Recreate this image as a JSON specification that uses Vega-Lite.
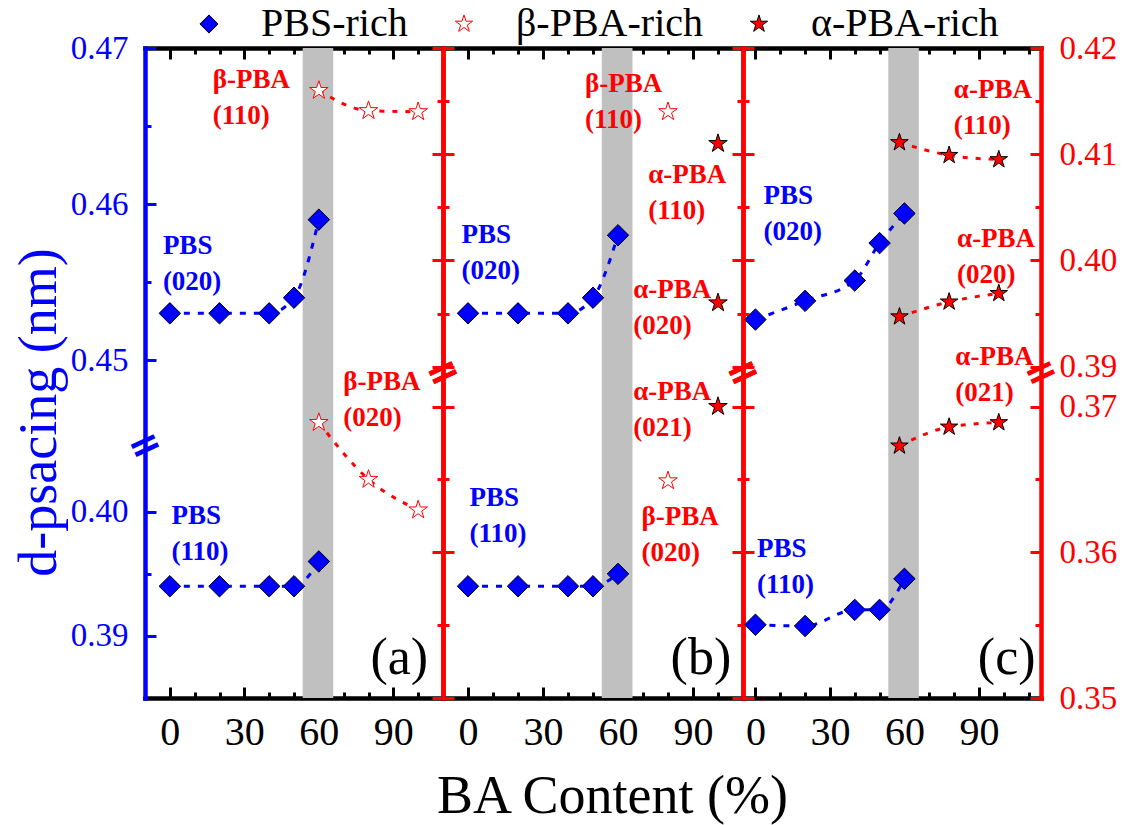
{
  "$schema": "https://vega.github.io/schema/vega-lite/v6.json",
  "padding": {"left": 12, "top": 4, "right": 4, "bottom": 4},
  "bounds": "flush",
  "spacing": 0,
  "datasets": {
    "bands": [{"start": 53.5, "end": 65.8}],
    "points": [
      {"panel": "a", "side": "blue", "phase": "PBS-rich", "reflection": "PBS (020)", "BA": 0, "d_spacing": 0.453},
      {"panel": "a", "side": "blue", "phase": "PBS-rich", "reflection": "PBS (020)", "BA": 20, "d_spacing": 0.453},
      {"panel": "a", "side": "blue", "phase": "PBS-rich", "reflection": "PBS (020)", "BA": 40, "d_spacing": 0.453},
      {"panel": "a", "side": "blue", "phase": "PBS-rich", "reflection": "PBS (020)", "BA": 50, "d_spacing": 0.454},
      {"panel": "a", "side": "blue", "phase": "PBS-rich", "reflection": "PBS (020)", "BA": 60, "d_spacing": 0.459},
      {"panel": "a", "side": "blue", "phase": "PBS-rich", "reflection": "PBS (110)", "BA": 0, "d_spacing": 0.394},
      {"panel": "a", "side": "blue", "phase": "PBS-rich", "reflection": "PBS (110)", "BA": 20, "d_spacing": 0.394},
      {"panel": "a", "side": "blue", "phase": "PBS-rich", "reflection": "PBS (110)", "BA": 40, "d_spacing": 0.394},
      {"panel": "a", "side": "blue", "phase": "PBS-rich", "reflection": "PBS (110)", "BA": 50, "d_spacing": 0.394},
      {"panel": "a", "side": "blue", "phase": "PBS-rich", "reflection": "PBS (110)", "BA": 60, "d_spacing": 0.396},
      {"panel": "a", "side": "red", "phase": "β-PBA-rich", "reflection": "β-PBA (110)", "BA": 60, "d_spacing": 0.416},
      {"panel": "a", "side": "red", "phase": "β-PBA-rich", "reflection": "β-PBA (110)", "BA": 80, "d_spacing": 0.4141},
      {"panel": "a", "side": "red", "phase": "β-PBA-rich", "reflection": "β-PBA (110)", "BA": 100, "d_spacing": 0.414},
      {"panel": "a", "side": "red", "phase": "β-PBA-rich", "reflection": "β-PBA (020)", "BA": 60, "d_spacing": 0.3689},
      {"panel": "a", "side": "red", "phase": "β-PBA-rich", "reflection": "β-PBA (020)", "BA": 80, "d_spacing": 0.365},
      {"panel": "a", "side": "red", "phase": "β-PBA-rich", "reflection": "β-PBA (020)", "BA": 100, "d_spacing": 0.3629},
      {"panel": "b", "side": "blue", "phase": "PBS-rich", "reflection": "PBS (020)", "BA": 0, "d_spacing": 0.453},
      {"panel": "b", "side": "blue", "phase": "PBS-rich", "reflection": "PBS (020)", "BA": 20, "d_spacing": 0.453},
      {"panel": "b", "side": "blue", "phase": "PBS-rich", "reflection": "PBS (020)", "BA": 40, "d_spacing": 0.453},
      {"panel": "b", "side": "blue", "phase": "PBS-rich", "reflection": "PBS (020)", "BA": 50, "d_spacing": 0.454},
      {"panel": "b", "side": "blue", "phase": "PBS-rich", "reflection": "PBS (020)", "BA": 60, "d_spacing": 0.458},
      {"panel": "b", "side": "blue", "phase": "PBS-rich", "reflection": "PBS (110)", "BA": 0, "d_spacing": 0.394},
      {"panel": "b", "side": "blue", "phase": "PBS-rich", "reflection": "PBS (110)", "BA": 20, "d_spacing": 0.394},
      {"panel": "b", "side": "blue", "phase": "PBS-rich", "reflection": "PBS (110)", "BA": 40, "d_spacing": 0.394},
      {"panel": "b", "side": "blue", "phase": "PBS-rich", "reflection": "PBS (110)", "BA": 50, "d_spacing": 0.394},
      {"panel": "b", "side": "blue", "phase": "PBS-rich", "reflection": "PBS (110)", "BA": 60, "d_spacing": 0.395},
      {"panel": "b", "side": "red", "phase": "β-PBA-rich", "reflection": "β-PBA (110)", "BA": 80, "d_spacing": 0.414},
      {"panel": "b", "side": "red", "phase": "β-PBA-rich", "reflection": "β-PBA (020)", "BA": 80, "d_spacing": 0.3649},
      {"panel": "b", "side": "red", "phase": "α-PBA-rich", "reflection": "α-PBA (110)", "BA": 100, "d_spacing": 0.411},
      {"panel": "b", "side": "red", "phase": "α-PBA-rich", "reflection": "α-PBA (020)", "BA": 100, "d_spacing": 0.396},
      {"panel": "b", "side": "red", "phase": "α-PBA-rich", "reflection": "α-PBA (021)", "BA": 100, "d_spacing": 0.370},
      {"panel": "c", "side": "blue", "phase": "PBS-rich", "reflection": "PBS (020)", "BA": 0, "d_spacing": 0.4526},
      {"panel": "c", "side": "blue", "phase": "PBS-rich", "reflection": "PBS (020)", "BA": 20, "d_spacing": 0.4538},
      {"panel": "c", "side": "blue", "phase": "PBS-rich", "reflection": "PBS (020)", "BA": 40, "d_spacing": 0.4551},
      {"panel": "c", "side": "blue", "phase": "PBS-rich", "reflection": "PBS (020)", "BA": 50, "d_spacing": 0.4575},
      {"panel": "c", "side": "blue", "phase": "PBS-rich", "reflection": "PBS (020)", "BA": 60, "d_spacing": 0.4594},
      {"panel": "c", "side": "blue", "phase": "PBS-rich", "reflection": "PBS (110)", "BA": 0, "d_spacing": 0.3909},
      {"panel": "c", "side": "blue", "phase": "PBS-rich", "reflection": "PBS (110)", "BA": 20, "d_spacing": 0.3908},
      {"panel": "c", "side": "blue", "phase": "PBS-rich", "reflection": "PBS (110)", "BA": 40, "d_spacing": 0.3921},
      {"panel": "c", "side": "blue", "phase": "PBS-rich", "reflection": "PBS (110)", "BA": 50, "d_spacing": 0.3921},
      {"panel": "c", "side": "blue", "phase": "PBS-rich", "reflection": "PBS (110)", "BA": 60, "d_spacing": 0.3946},
      {"panel": "c", "side": "red", "phase": "α-PBA-rich", "reflection": "α-PBA (110)", "BA": 58, "d_spacing": 0.4111},
      {"panel": "c", "side": "red", "phase": "α-PBA-rich", "reflection": "α-PBA (110)", "BA": 78, "d_spacing": 0.4099},
      {"panel": "c", "side": "red", "phase": "α-PBA-rich", "reflection": "α-PBA (110)", "BA": 98, "d_spacing": 0.4095},
      {"panel": "c", "side": "red", "phase": "α-PBA-rich", "reflection": "α-PBA (020)", "BA": 58, "d_spacing": 0.3947},
      {"panel": "c", "side": "red", "phase": "α-PBA-rich", "reflection": "α-PBA (020)", "BA": 78, "d_spacing": 0.3961},
      {"panel": "c", "side": "red", "phase": "α-PBA-rich", "reflection": "α-PBA (020)", "BA": 98, "d_spacing": 0.3969},
      {"panel": "c", "side": "red", "phase": "α-PBA-rich", "reflection": "α-PBA (021)", "BA": 58, "d_spacing": 0.3673},
      {"panel": "c", "side": "red", "phase": "α-PBA-rich", "reflection": "α-PBA (021)", "BA": 78, "d_spacing": 0.3686},
      {"panel": "c", "side": "red", "phase": "α-PBA-rich", "reflection": "α-PBA (021)", "BA": 98, "d_spacing": 0.3689}
    ],
    "labels": [
      {"panel": "a", "side": "red", "BA": 17.3, "d_spacing": 0.4170, "text": "β-PBA\n(110)"},
      {"panel": "a", "side": "blue", "BA": -2.8, "d_spacing": 0.4573, "text": "PBS\n(020)"},
      {"panel": "a", "side": "red", "BA": 69.8, "d_spacing": 0.3717, "text": "β-PBA\n(020)"},
      {"panel": "a", "side": "blue", "BA": 0.7, "d_spacing": 0.3997, "text": "PBS\n(110)"},
      {"panel": "b", "side": "red", "BA": 46.8, "d_spacing": 0.4166, "text": "β-PBA\n(110)"},
      {"panel": "b", "side": "red", "BA": 72.1, "d_spacing": 0.4080, "text": "α-PBA\n(110)"},
      {"panel": "b", "side": "blue", "BA": -2.6, "d_spacing": 0.4580, "text": "PBS\n(020)"},
      {"panel": "b", "side": "red", "BA": 66.1, "d_spacing": 0.3972, "text": "α-PBA\n(020)"},
      {"panel": "b", "side": "red", "BA": 66.1, "d_spacing": 0.3710, "text": "α-PBA\n(021)"},
      {"panel": "b", "side": "blue", "BA": 0.6, "d_spacing": 0.4011, "text": "PBS\n(110)"},
      {"panel": "b", "side": "red", "BA": 69.4, "d_spacing": 0.3624, "text": "β-PBA\n(020)"},
      {"panel": "c", "side": "red", "BA": 79.9, "d_spacing": 0.4160, "text": "α-PBA\n(110)"},
      {"panel": "c", "side": "blue", "BA": 3.3, "d_spacing": 0.4605, "text": "PBS\n(020)"},
      {"panel": "c", "side": "red", "BA": 81.2, "d_spacing": 0.4020, "text": "α-PBA\n(020)"},
      {"panel": "c", "side": "red", "BA": 80.5, "d_spacing": 0.3909, "text": "α-PBA\n(021)"},
      {"panel": "c", "side": "blue", "BA": 0.6, "d_spacing": 0.3970, "text": "PBS\n(110)"}
    ],
    "tags": [
      {"panel": "a", "BA": 104, "d_spacing": 0.3882, "text": "(a)"},
      {"panel": "b", "BA": 105.3, "d_spacing": 0.3882, "text": "(b)"},
      {"panel": "c", "BA": 112.8, "d_spacing": 0.3882, "text": "(c)"}
    ],
    "breaks": [
      {"panel": "a", "side": "blue", "BA": -10, "d_spacing": 0.425},
      {"panel": "a", "side": "red", "BA": 110, "d_spacing": 0.38},
      {"panel": "b", "side": "red", "BA": -10, "d_spacing": 0.38},
      {"panel": "b", "side": "red", "BA": 110, "d_spacing": 0.38},
      {"panel": "c", "side": "red", "BA": -5, "d_spacing": 0.38},
      {"panel": "c", "side": "red", "BA": 115, "d_spacing": 0.38}
    ]
  },
  "hconcat": [
    {
      "width": 298,
      "height": 650,
      "resolve": {"scale": {"y": "independent"}, "axis": {"x": "independent", "y": "independent"}},
      "layer": [
        {
          "data": {"name": "bands"},
          "mark": {"type": "rect", "color": "#C0C0C0"},
          "encoding": {
            "x": {"field": "start", "type": "quantitative", "scale": {"domain": [-10, 110], "nice": false, "zero": false},
              "axis": {"orient": "bottom", "values": [0,10,20,30,40,50,60,70,80,90,100], "labelExpr": "datum.value % 30 == 0 && datum.value < 100 ? datum.label : ''", "tickSize": {"condition": {"test": "datum.value % 30 == 0", "value": -11}, "value": -6}, "labelPadding": 25, "labelFontSize": 40, "title": null}},
            "x2": {"field": "end"}
          }
        },
        {
          "resolve": {"axis": {"x": "independent", "y": "independent"}},
          "layer": [
            {
              "data": {"name": "points"},
              "transform": [{"filter": "datum.panel == 'a' && datum.side == 'blue'"}],
              "mark": {"type": "line", "stroke": "#0000FF", "strokeWidth": 3, "strokeDash": [6, 8], "interpolate": "monotone"},
              "encoding": {
                "x": {"field": "BA", "type": "quantitative", "scale": {"domain": [-10, 110], "nice": false, "zero": false}, "axis": null},
                "y": {"field": "d_spacing", "type": "quantitative", "scale": {"domain": [0.385, 0.4053, 0.4445, 0.47], "range": [650, 398, 398, 0], "nice": false, "zero": false},
                  "axis": {"orient": "left", "values": [0.39, 0.395, 0.40, 0.45, 0.455, 0.46, 0.465, 0.47], "labelExpr": "round(datum.value*1000) % 10 == 0 ? format(datum.value, '.2f') : ''", "tickSize": {"condition": {"test": "round(datum.value*1000) % 10 == 0", "value": -11}, "value": -6}, "labelPadding": 28, "labelFontSize": 33, "labelColor": "#0000FF", "domainColor": "#0000FF", "tickColor": "#0000FF", "title": "d-psacing (nm)", "titleColor": "#0000FF", "titleFontSize": 54, "titlePadding": 4, "titleY": 364}},
                "detail": {"field": "reflection"}
              }
            },
            {
              "data": {"name": "points"},
              "transform": [{"filter": "datum.panel == 'a' && datum.side == 'blue'"}],
              "mark": {"type": "point", "size": 460, "opacity": 1, "strokeWidth": 1},
              "encoding": {
                "x": {"field": "BA", "type": "quantitative", "scale": {"domain": [-10, 110], "nice": false, "zero": false},
                  "axis": {"orient": "top", "values": [0,10,20,30,40,50,60,70,80,90,100], "labels": false, "tickSize": {"condition": {"test": "datum.value % 30 == 0", "value": -11}, "value": -6}, "title": null}},
                "y": {"field": "d_spacing", "type": "quantitative", "scale": {"domain": [0.385, 0.4053, 0.4445, 0.47], "range": [650, 398, 398, 0], "nice": false, "zero": false}, "axis": null},
                "shape": {"field": "phase", "type": "nominal", "title": null, "scale": {"domain": ["PBS-rich", "β-PBA-rich", "α-PBA-rich"], "range": ["diamond", "M0,-1L0.2245,-0.309L0.9511,-0.309L0.3633,0.118L0.5878,0.809L0,0.382L-0.5878,0.809L-0.3633,0.118L-0.9511,-0.309L-0.2245,-0.309Z", "M0,-1L0.2245,-0.309L0.9511,-0.309L0.3633,0.118L0.5878,0.809L0,0.382L-0.5878,0.809L-0.3633,0.118L-0.9511,-0.309L-0.2245,-0.309Z"]}},
                "fill": {"field": "phase", "type": "nominal", "title": null, "scale": {"domain": ["PBS-rich", "β-PBA-rich", "α-PBA-rich"], "range": ["#0000FF", "#FFFFFF", "#FF0000"]}},
                "stroke": {"field": "phase", "type": "nominal", "title": null, "scale": {"domain": ["PBS-rich", "β-PBA-rich", "α-PBA-rich"], "range": ["#000000", "#FF0000", "#000000"]}}
              }
            },
            {
              "data": {"name": "labels"},
              "transform": [{"filter": "datum.panel == 'a' && datum.side == 'blue'"}],
              "mark": {"type": "text", "align": "left", "baseline": "middle", "font": "Liberation Serif", "fontWeight": "bold", "fontSize": 27, "lineHeight": 36, "lineBreak": "\n", "color": "#0000FF"},
              "encoding": {
                "x": {"field": "BA", "type": "quantitative", "scale": {"domain": [-10, 110], "nice": false, "zero": false}, "axis": null},
                "y": {"field": "d_spacing", "type": "quantitative", "scale": {"domain": [0.385, 0.4053, 0.4445, 0.47], "range": [650, 398, 398, 0], "nice": false, "zero": false}, "axis": null},
                "text": {"field": "text"}
              }
            },
            {
              "data": {"name": "tags"},
              "transform": [{"filter": "datum.panel == 'a'"}],
              "mark": {"type": "text", "align": "right", "baseline": "middle", "font": "Liberation Serif", "fontSize": 52, "color": "#000000"},
              "encoding": {
                "x": {"field": "BA", "type": "quantitative", "scale": {"domain": [-10, 110], "nice": false, "zero": false}, "axis": null},
                "y": {"field": "d_spacing", "type": "quantitative", "scale": {"domain": [0.385, 0.4053, 0.4445, 0.47], "range": [650, 398, 398, 0], "nice": false, "zero": false}, "axis": null},
                "text": {"field": "text"}
              }
            },
            {
              "data": {"name": "breaks"},
              "transform": [{"filter": "datum.panel == 'a' && datum.side == 'blue'"}],
              "mark": {"type": "text", "text": "=", "angle": 335, "align": "center", "baseline": "middle", "font": "DejaVu Sans", "fontSize": 40, "fontWeight": "bold", "color": "#0000FF"},
              "encoding": {
                "x": {"field": "BA", "type": "quantitative", "scale": {"domain": [-10, 110], "nice": false, "zero": false}, "axis": null},
                "y": {"field": "d_spacing", "type": "quantitative", "scale": {"domain": [0.385, 0.4053, 0.4445, 0.47], "range": [650, 398, 398, 0], "nice": false, "zero": false}, "axis": null}
              }
            }
          ]
        },
        {
          "resolve": {"axis": {"x": "independent", "y": "independent"}},
          "layer": [
            {
              "data": {"name": "points"},
              "transform": [{"filter": "datum.panel == 'a' && datum.side == 'red'"}],
              "mark": {"type": "line", "stroke": "#FF0000", "strokeWidth": 3, "strokeDash": [5, 8], "interpolate": "monotone"},
              "encoding": {
                "x": {"field": "BA", "type": "quantitative", "scale": {"domain": [-10, 110], "nice": false, "zero": false}, "axis": null},
                "y": {"field": "d_spacing", "type": "quantitative", "scale": {"domain": [0.35, 0.3723, 0.3894, 0.42], "range": [650, 325, 325, 0], "nice": false, "zero": false}, "axis": null},
                "detail": {"field": "reflection"}
              }
            },
            {
              "data": {"name": "points"},
              "transform": [{"filter": "datum.panel == 'a' && datum.side == 'red'"}],
              "mark": {"type": "point", "size": 380, "opacity": 1, "strokeWidth": 1},
              "encoding": {
                "x": {"field": "BA", "type": "quantitative", "scale": {"domain": [-10, 110], "nice": false, "zero": false}, "axis": null},
                "y": {"field": "d_spacing", "type": "quantitative", "scale": {"domain": [0.35, 0.3723, 0.3894, 0.42], "range": [650, 325, 325, 0], "nice": false, "zero": false},
                  "axis": {"orient": "right", "values": [0.35, 0.355, 0.36, 0.365, 0.37, 0.39, 0.395, 0.40, 0.405, 0.41, 0.415, 0.42], "labels": false, "tickSize": {"condition": {"test": "round(datum.value*1000) % 10 == 0", "value": -11}, "value": -6}, "title": null}},
                "shape": {"field": "phase", "type": "nominal", "title": null, "scale": {"domain": ["PBS-rich", "β-PBA-rich", "α-PBA-rich"], "range": ["diamond", "M0,-1L0.2245,-0.309L0.9511,-0.309L0.3633,0.118L0.5878,0.809L0,0.382L-0.5878,0.809L-0.3633,0.118L-0.9511,-0.309L-0.2245,-0.309Z", "M0,-1L0.2245,-0.309L0.9511,-0.309L0.3633,0.118L0.5878,0.809L0,0.382L-0.5878,0.809L-0.3633,0.118L-0.9511,-0.309L-0.2245,-0.309Z"]}},
                "fill": {"field": "phase", "type": "nominal", "title": null, "scale": {"domain": ["PBS-rich", "β-PBA-rich", "α-PBA-rich"], "range": ["#0000FF", "#FFFFFF", "#FF0000"]}},
                "stroke": {"field": "phase", "type": "nominal", "title": null, "scale": {"domain": ["PBS-rich", "β-PBA-rich", "α-PBA-rich"], "range": ["#000000", "#FF0000", "#000000"]}}
              }
            },
            {
              "data": {"name": "labels"},
              "transform": [{"filter": "datum.panel == 'a' && datum.side == 'red'"}],
              "mark": {"type": "text", "align": "left", "baseline": "middle", "font": "Liberation Serif", "fontWeight": "bold", "fontSize": 27, "lineHeight": 36, "lineBreak": "\n", "color": "#FF0000"},
              "encoding": {
                "x": {"field": "BA", "type": "quantitative", "scale": {"domain": [-10, 110], "nice": false, "zero": false}, "axis": null},
                "y": {"field": "d_spacing", "type": "quantitative", "scale": {"domain": [0.35, 0.3723, 0.3894, 0.42], "range": [650, 325, 325, 0], "nice": false, "zero": false}, "axis": null},
                "text": {"field": "text"}
              }
            },
            {
              "data": {"name": "breaks"},
              "transform": [{"filter": "datum.panel == 'a' && datum.side == 'red'"}],
              "mark": {"type": "text", "text": "=", "angle": 335, "align": "center", "baseline": "middle", "font": "DejaVu Sans", "fontSize": 40, "fontWeight": "bold", "color": "#FF0000"},
              "encoding": {
                "x": {"field": "BA", "type": "quantitative", "scale": {"domain": [-10, 110], "nice": false, "zero": false}, "axis": null},
                "y": {"field": "d_spacing", "type": "quantitative", "scale": {"domain": [0.35, 0.3723, 0.3894, 0.42], "range": [650, 325, 325, 0], "nice": false, "zero": false}, "axis": null}
              }
            }
          ]
        }
      ]
    },
    {
      "width": 300,
      "height": 650,
      "resolve": {"scale": {"y": "independent"}, "axis": {"x": "independent", "y": "independent"}},
      "layer": [
        {
          "data": {"name": "bands"},
          "mark": {"type": "rect", "color": "#C0C0C0"},
          "encoding": {
            "x": {"field": "start", "type": "quantitative", "scale": {"domain": [-10, 110], "nice": false, "zero": false},
              "axis": {"orient": "bottom", "values": [0,10,20,30,40,50,60,70,80,90,100], "labelExpr": "datum.value % 30 == 0 && datum.value < 100 ? datum.label : ''", "tickSize": {"condition": {"test": "datum.value % 30 == 0", "value": -11}, "value": -6}, "labelPadding": 25, "labelFontSize": 40, "title": "BA Content (%)", "titleFontSize": 54, "titleColor": "#000000", "titlePadding": 12, "titleX": 169}},
            "x2": {"field": "end"}
          }
        },
        {
          "resolve": {"axis": {"x": "independent", "y": "independent"}},
          "layer": [
            {
              "data": {"name": "points"},
              "transform": [{"filter": "datum.panel == 'b' && datum.side == 'blue'"}],
              "mark": {"type": "line", "stroke": "#0000FF", "strokeWidth": 3, "strokeDash": [6, 8], "interpolate": "monotone"},
              "encoding": {
                "x": {"field": "BA", "type": "quantitative", "scale": {"domain": [-10, 110], "nice": false, "zero": false}, "axis": null},
                "y": {"field": "d_spacing", "type": "quantitative", "scale": {"domain": [0.385, 0.4053, 0.4445, 0.47], "range": [650, 398, 398, 0], "nice": false, "zero": false}, "axis": null},
                "detail": {"field": "reflection"}
              }
            },
            {
              "data": {"name": "points"},
              "transform": [{"filter": "datum.panel == 'b' && datum.side == 'blue'"}],
              "mark": {"type": "point", "size": 460, "opacity": 1, "strokeWidth": 1},
              "encoding": {
                "x": {"field": "BA", "type": "quantitative", "scale": {"domain": [-10, 110], "nice": false, "zero": false},
                  "axis": {"orient": "top", "values": [0,10,20,30,40,50,60,70,80,90,100], "labels": false, "tickSize": {"condition": {"test": "datum.value % 30 == 0", "value": -11}, "value": -6}, "title": null}},
                "y": {"field": "d_spacing", "type": "quantitative", "scale": {"domain": [0.385, 0.4053, 0.4445, 0.47], "range": [650, 398, 398, 0], "nice": false, "zero": false}, "axis": null},
                "shape": {"field": "phase", "type": "nominal", "title": null, "scale": {"domain": ["PBS-rich", "β-PBA-rich", "α-PBA-rich"], "range": ["diamond", "M0,-1L0.2245,-0.309L0.9511,-0.309L0.3633,0.118L0.5878,0.809L0,0.382L-0.5878,0.809L-0.3633,0.118L-0.9511,-0.309L-0.2245,-0.309Z", "M0,-1L0.2245,-0.309L0.9511,-0.309L0.3633,0.118L0.5878,0.809L0,0.382L-0.5878,0.809L-0.3633,0.118L-0.9511,-0.309L-0.2245,-0.309Z"]}},
                "fill": {"field": "phase", "type": "nominal", "title": null, "scale": {"domain": ["PBS-rich", "β-PBA-rich", "α-PBA-rich"], "range": ["#0000FF", "#FFFFFF", "#FF0000"]}},
                "stroke": {"field": "phase", "type": "nominal", "title": null, "scale": {"domain": ["PBS-rich", "β-PBA-rich", "α-PBA-rich"], "range": ["#000000", "#FF0000", "#000000"]}}
              }
            },
            {
              "data": {"name": "labels"},
              "transform": [{"filter": "datum.panel == 'b' && datum.side == 'blue'"}],
              "mark": {"type": "text", "align": "left", "baseline": "middle", "font": "Liberation Serif", "fontWeight": "bold", "fontSize": 27, "lineHeight": 36, "lineBreak": "\n", "color": "#0000FF"},
              "encoding": {
                "x": {"field": "BA", "type": "quantitative", "scale": {"domain": [-10, 110], "nice": false, "zero": false}, "axis": null},
                "y": {"field": "d_spacing", "type": "quantitative", "scale": {"domain": [0.385, 0.4053, 0.4445, 0.47], "range": [650, 398, 398, 0], "nice": false, "zero": false}, "axis": null},
                "text": {"field": "text"}
              }
            },
            {
              "data": {"name": "tags"},
              "transform": [{"filter": "datum.panel == 'b'"}],
              "mark": {"type": "text", "align": "right", "baseline": "middle", "font": "Liberation Serif", "fontSize": 52, "color": "#000000"},
              "encoding": {
                "x": {"field": "BA", "type": "quantitative", "scale": {"domain": [-10, 110], "nice": false, "zero": false}, "axis": null},
                "y": {"field": "d_spacing", "type": "quantitative", "scale": {"domain": [0.385, 0.4053, 0.4445, 0.47], "range": [650, 398, 398, 0], "nice": false, "zero": false}, "axis": null},
                "text": {"field": "text"}
              }
            }
          ]
        },
        {
          "resolve": {"axis": {"x": "independent", "y": "independent"}},
          "layer": [
            {
              "data": {"name": "points"},
              "transform": [{"filter": "datum.panel == 'b' && datum.side == 'red'"}],
              "mark": {"type": "line", "stroke": "#FF0000", "strokeWidth": 3, "strokeDash": [5, 8], "interpolate": "monotone"},
              "encoding": {
                "x": {"field": "BA", "type": "quantitative", "scale": {"domain": [-10, 110], "nice": false, "zero": false}, "axis": null},
                "y": {"field": "d_spacing", "type": "quantitative", "scale": {"domain": [0.35, 0.3723, 0.3894, 0.42], "range": [650, 325, 325, 0], "nice": false, "zero": false},
                  "axis": {"orient": "left", "values": [0.35, 0.355, 0.36, 0.365, 0.37, 0.39, 0.395, 0.40, 0.405, 0.41, 0.415, 0.42], "labels": false, "tickSize": {"condition": {"test": "round(datum.value*1000) % 10 == 0", "value": -11}, "value": -6}, "title": null}},
                "detail": {"field": "reflection"}
              }
            },
            {
              "data": {"name": "points"},
              "transform": [{"filter": "datum.panel == 'b' && datum.side == 'red'"}],
              "mark": {"type": "point", "size": 380, "opacity": 1, "strokeWidth": 1},
              "encoding": {
                "x": {"field": "BA", "type": "quantitative", "scale": {"domain": [-10, 110], "nice": false, "zero": false}, "axis": null},
                "y": {"field": "d_spacing", "type": "quantitative", "scale": {"domain": [0.35, 0.3723, 0.3894, 0.42], "range": [650, 325, 325, 0], "nice": false, "zero": false},
                  "axis": {"orient": "right", "values": [0.35, 0.355, 0.36, 0.365, 0.37, 0.39, 0.395, 0.40, 0.405, 0.41, 0.415, 0.42], "labels": false, "tickSize": {"condition": {"test": "round(datum.value*1000) % 10 == 0", "value": -11}, "value": -6}, "title": null}},
                "shape": {"field": "phase", "type": "nominal", "title": null, "scale": {"domain": ["PBS-rich", "β-PBA-rich", "α-PBA-rich"], "range": ["diamond", "M0,-1L0.2245,-0.309L0.9511,-0.309L0.3633,0.118L0.5878,0.809L0,0.382L-0.5878,0.809L-0.3633,0.118L-0.9511,-0.309L-0.2245,-0.309Z", "M0,-1L0.2245,-0.309L0.9511,-0.309L0.3633,0.118L0.5878,0.809L0,0.382L-0.5878,0.809L-0.3633,0.118L-0.9511,-0.309L-0.2245,-0.309Z"]}},
                "fill": {"field": "phase", "type": "nominal", "title": null, "scale": {"domain": ["PBS-rich", "β-PBA-rich", "α-PBA-rich"], "range": ["#0000FF", "#FFFFFF", "#FF0000"]}},
                "stroke": {"field": "phase", "type": "nominal", "title": null, "scale": {"domain": ["PBS-rich", "β-PBA-rich", "α-PBA-rich"], "range": ["#000000", "#FF0000", "#000000"]}}
              }
            },
            {
              "data": {"name": "labels"},
              "transform": [{"filter": "datum.panel == 'b' && datum.side == 'red'"}],
              "mark": {"type": "text", "align": "left", "baseline": "middle", "font": "Liberation Serif", "fontWeight": "bold", "fontSize": 27, "lineHeight": 36, "lineBreak": "\n", "color": "#FF0000"},
              "encoding": {
                "x": {"field": "BA", "type": "quantitative", "scale": {"domain": [-10, 110], "nice": false, "zero": false}, "axis": null},
                "y": {"field": "d_spacing", "type": "quantitative", "scale": {"domain": [0.35, 0.3723, 0.3894, 0.42], "range": [650, 325, 325, 0], "nice": false, "zero": false}, "axis": null},
                "text": {"field": "text"}
              }
            },
            {
              "data": {"name": "breaks"},
              "transform": [{"filter": "datum.panel == 'b' && datum.side == 'red'"}],
              "mark": {"type": "text", "text": "=", "angle": 335, "align": "center", "baseline": "middle", "font": "DejaVu Sans", "fontSize": 40, "fontWeight": "bold", "color": "#FF0000"},
              "encoding": {
                "x": {"field": "BA", "type": "quantitative", "scale": {"domain": [-10, 110], "nice": false, "zero": false}, "axis": null},
                "y": {"field": "d_spacing", "type": "quantitative", "scale": {"domain": [0.35, 0.3723, 0.3894, 0.42], "range": [650, 325, 325, 0], "nice": false, "zero": false}, "axis": null}
              }
            }
          ]
        }
      ]
    },
    {
      "width": 298,
      "height": 650,
      "resolve": {"scale": {"y": "independent"}, "axis": {"x": "independent", "y": "independent"}},
      "layer": [
        {
          "data": {"name": "bands"},
          "mark": {"type": "rect", "color": "#C0C0C0"},
          "encoding": {
            "x": {"field": "start", "type": "quantitative", "scale": {"domain": [-5, 115], "nice": false, "zero": false},
              "axis": {"orient": "bottom", "values": [0,10,20,30,40,50,60,70,80,90,100,110], "labelExpr": "datum.value % 30 == 0 && datum.value < 100 ? datum.label : ''", "tickSize": {"condition": {"test": "datum.value % 30 == 0", "value": -11}, "value": -6}, "labelPadding": 25, "labelFontSize": 40, "title": null}},
            "x2": {"field": "end"}
          }
        },
        {
          "resolve": {"axis": {"x": "independent", "y": "independent"}},
          "layer": [
            {
              "data": {"name": "points"},
              "transform": [{"filter": "datum.panel == 'c' && datum.side == 'blue'"}],
              "mark": {"type": "line", "stroke": "#0000FF", "strokeWidth": 3, "strokeDash": [6, 8], "interpolate": "monotone"},
              "encoding": {
                "x": {"field": "BA", "type": "quantitative", "scale": {"domain": [-5, 115], "nice": false, "zero": false}, "axis": null},
                "y": {"field": "d_spacing", "type": "quantitative", "scale": {"domain": [0.385, 0.4053, 0.4445, 0.47], "range": [650, 398, 398, 0], "nice": false, "zero": false}, "axis": null},
                "detail": {"field": "reflection"}
              }
            },
            {
              "data": {"name": "points"},
              "transform": [{"filter": "datum.panel == 'c' && datum.side == 'blue'"}],
              "mark": {"type": "point", "size": 460, "opacity": 1, "strokeWidth": 1},
              "encoding": {
                "x": {"field": "BA", "type": "quantitative", "scale": {"domain": [-5, 115], "nice": false, "zero": false},
                  "axis": {"orient": "top", "values": [0,10,20,30,40,50,60,70,80,90,100,110], "labels": false, "tickSize": {"condition": {"test": "datum.value % 30 == 0", "value": -11}, "value": -6}, "title": null}},
                "y": {"field": "d_spacing", "type": "quantitative", "scale": {"domain": [0.385, 0.4053, 0.4445, 0.47], "range": [650, 398, 398, 0], "nice": false, "zero": false}, "axis": null},
                "shape": {"field": "phase", "type": "nominal", "title": null, "scale": {"domain": ["PBS-rich", "β-PBA-rich", "α-PBA-rich"], "range": ["diamond", "M0,-1L0.2245,-0.309L0.9511,-0.309L0.3633,0.118L0.5878,0.809L0,0.382L-0.5878,0.809L-0.3633,0.118L-0.9511,-0.309L-0.2245,-0.309Z", "M0,-1L0.2245,-0.309L0.9511,-0.309L0.3633,0.118L0.5878,0.809L0,0.382L-0.5878,0.809L-0.3633,0.118L-0.9511,-0.309L-0.2245,-0.309Z"]}},
                "fill": {"field": "phase", "type": "nominal", "title": null, "scale": {"domain": ["PBS-rich", "β-PBA-rich", "α-PBA-rich"], "range": ["#0000FF", "#FFFFFF", "#FF0000"]}},
                "stroke": {"field": "phase", "type": "nominal", "title": null, "scale": {"domain": ["PBS-rich", "β-PBA-rich", "α-PBA-rich"], "range": ["#000000", "#FF0000", "#000000"]}}
              }
            },
            {
              "data": {"name": "labels"},
              "transform": [{"filter": "datum.panel == 'c' && datum.side == 'blue'"}],
              "mark": {"type": "text", "align": "left", "baseline": "middle", "font": "Liberation Serif", "fontWeight": "bold", "fontSize": 27, "lineHeight": 36, "lineBreak": "\n", "color": "#0000FF"},
              "encoding": {
                "x": {"field": "BA", "type": "quantitative", "scale": {"domain": [-5, 115], "nice": false, "zero": false}, "axis": null},
                "y": {"field": "d_spacing", "type": "quantitative", "scale": {"domain": [0.385, 0.4053, 0.4445, 0.47], "range": [650, 398, 398, 0], "nice": false, "zero": false}, "axis": null},
                "text": {"field": "text"}
              }
            },
            {
              "data": {"name": "tags"},
              "transform": [{"filter": "datum.panel == 'c'"}],
              "mark": {"type": "text", "align": "right", "baseline": "middle", "font": "Liberation Serif", "fontSize": 52, "color": "#000000"},
              "encoding": {
                "x": {"field": "BA", "type": "quantitative", "scale": {"domain": [-5, 115], "nice": false, "zero": false}, "axis": null},
                "y": {"field": "d_spacing", "type": "quantitative", "scale": {"domain": [0.385, 0.4053, 0.4445, 0.47], "range": [650, 398, 398, 0], "nice": false, "zero": false}, "axis": null},
                "text": {"field": "text"}
              }
            }
          ]
        },
        {
          "resolve": {"axis": {"x": "independent", "y": "independent"}},
          "layer": [
            {
              "data": {"name": "points"},
              "transform": [{"filter": "datum.panel == 'c' && datum.side == 'red'"}],
              "mark": {"type": "line", "stroke": "#FF0000", "strokeWidth": 3, "strokeDash": [5, 8], "interpolate": "monotone"},
              "encoding": {
                "x": {"field": "BA", "type": "quantitative", "scale": {"domain": [-5, 115], "nice": false, "zero": false}, "axis": null},
                "y": {"field": "d_spacing", "type": "quantitative", "scale": {"domain": [0.35, 0.3723, 0.3894, 0.42], "range": [650, 325, 325, 0], "nice": false, "zero": false},
                  "axis": {"orient": "left", "values": [0.35, 0.355, 0.36, 0.365, 0.37, 0.39, 0.395, 0.40, 0.405, 0.41, 0.415, 0.42], "labels": false, "tickSize": {"condition": {"test": "round(datum.value*1000) % 10 == 0", "value": -11}, "value": -6}, "title": null}},
                "detail": {"field": "reflection"}
              }
            },
            {
              "data": {"name": "points"},
              "transform": [{"filter": "datum.panel == 'c' && datum.side == 'red'"}],
              "mark": {"type": "point", "size": 340, "opacity": 1, "strokeWidth": 1},
              "encoding": {
                "x": {"field": "BA", "type": "quantitative", "scale": {"domain": [-5, 115], "nice": false, "zero": false}, "axis": null},
                "y": {"field": "d_spacing", "type": "quantitative", "scale": {"domain": [0.35, 0.3723, 0.3894, 0.42], "range": [650, 325, 325, 0], "nice": false, "zero": false},
                  "axis": {"orient": "right", "values": [0.35, 0.355, 0.36, 0.365, 0.37, 0.39, 0.395, 0.40, 0.405, 0.41, 0.415, 0.42], "labelExpr": "round(datum.value*1000) % 10 == 0 ? format(datum.value, '.2f') : ''", "tickSize": {"condition": {"test": "round(datum.value*1000) % 10 == 0", "value": -11}, "value": -6}, "labelPadding": 29, "labelFontSize": 33, "title": null}},
                "shape": {"field": "phase", "type": "nominal", "title": null, "scale": {"domain": ["PBS-rich", "β-PBA-rich", "α-PBA-rich"], "range": ["diamond", "M0,-1L0.2245,-0.309L0.9511,-0.309L0.3633,0.118L0.5878,0.809L0,0.382L-0.5878,0.809L-0.3633,0.118L-0.9511,-0.309L-0.2245,-0.309Z", "M0,-1L0.2245,-0.309L0.9511,-0.309L0.3633,0.118L0.5878,0.809L0,0.382L-0.5878,0.809L-0.3633,0.118L-0.9511,-0.309L-0.2245,-0.309Z"]}},
                "fill": {"field": "phase", "type": "nominal", "title": null, "scale": {"domain": ["PBS-rich", "β-PBA-rich", "α-PBA-rich"], "range": ["#0000FF", "#FFFFFF", "#FF0000"]}},
                "stroke": {"field": "phase", "type": "nominal", "title": null, "scale": {"domain": ["PBS-rich", "β-PBA-rich", "α-PBA-rich"], "range": ["#000000", "#FF0000", "#000000"]}}
              }
            },
            {
              "data": {"name": "labels"},
              "transform": [{"filter": "datum.panel == 'c' && datum.side == 'red'"}],
              "mark": {"type": "text", "align": "left", "baseline": "middle", "font": "Liberation Serif", "fontWeight": "bold", "fontSize": 27, "lineHeight": 36, "lineBreak": "\n", "color": "#FF0000"},
              "encoding": {
                "x": {"field": "BA", "type": "quantitative", "scale": {"domain": [-5, 115], "nice": false, "zero": false}, "axis": null},
                "y": {"field": "d_spacing", "type": "quantitative", "scale": {"domain": [0.35, 0.3723, 0.3894, 0.42], "range": [650, 325, 325, 0], "nice": false, "zero": false}, "axis": null},
                "text": {"field": "text"}
              }
            },
            {
              "data": {"name": "breaks"},
              "transform": [{"filter": "datum.panel == 'c' && datum.side == 'red'"}],
              "mark": {"type": "text", "text": "=", "angle": 335, "align": "center", "baseline": "middle", "font": "DejaVu Sans", "fontSize": 40, "fontWeight": "bold", "color": "#FF0000"},
              "encoding": {
                "x": {"field": "BA", "type": "quantitative", "scale": {"domain": [-5, 115], "nice": false, "zero": false}, "axis": null},
                "y": {"field": "d_spacing", "type": "quantitative", "scale": {"domain": [0.35, 0.3723, 0.3894, 0.42], "range": [650, 325, 325, 0], "nice": false, "zero": false}, "axis": null}
              }
            }
          ]
        }
      ]
    }
  ],
  "config": {
    "view": {"stroke": null},
    "font": "Liberation Serif",
    "axis": {"grid": false, "labelFont": "Liberation Serif", "titleFont": "Liberation Serif", "titleFontWeight": "normal", "domainWidth": 4.5, "tickWidth": 3, "labelFlush": false, "labelOverlap": false, "domainCap": "square"},
    "axisX": {"domainColor": "#000000", "tickColor": "#000000", "labelColor": "#000000"},
    "axisY": {"domainColor": "#FF0000", "tickColor": "#FF0000", "labelColor": "#FF0000"},
    "legend": {"orient": "none", "legendX": 44, "legendY": -44, "direction": "horizontal", "labelFont": "Liberation Serif", "labelFontSize": 40, "symbolSize": 330, "labelOffset": 32, "columnPadding": 36, "symbolStrokeWidth": 1, "labelLimit": 400}
  }
}
